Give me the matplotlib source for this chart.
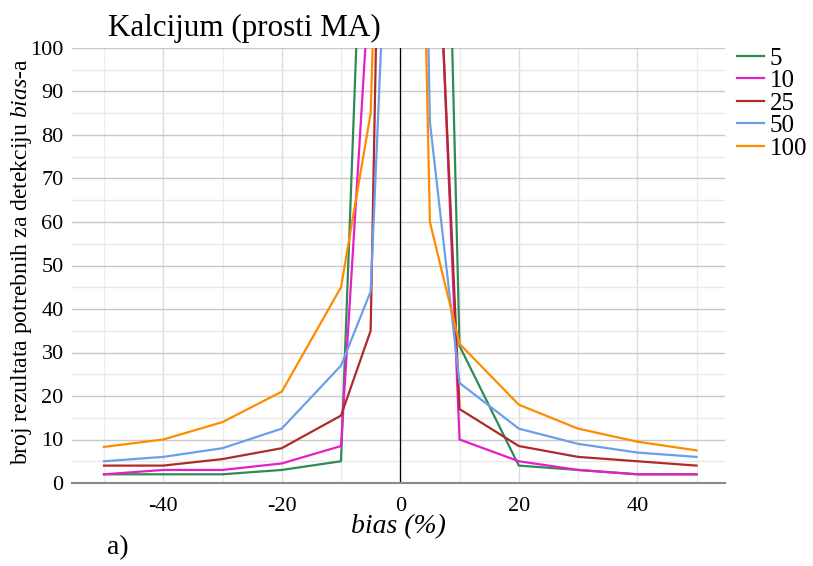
import matplotlib
matplotlib.use("Agg")
import matplotlib.pyplot as plt
from matplotlib.ticker import MultipleLocator

plt.rcParams["font.family"] = ["Liberation Serif", "DejaVu Serif"]
plt.rcParams["mathtext.fontset"] = "custom"
plt.rcParams["mathtext.rm"] = "Liberation Serif"
plt.rcParams["mathtext.it"] = "Liberation Serif:italic"
plt.rcParams["axes.unicode_minus"] = False

# bias (%) and number of results needed, per moving-average size
bias = [-50, -40, -30, -20, -10, -5, -2, 2, 5, 10, 20, 30, 40, 50]
n5 = [2, 2, 2, 3, 5, 190, 500, 500, 310, 31.5, 4, 3, 2, 2]
n10 = [2, 3, 3, 4.5, 8.5, 120, 400, 400, 175, 10, 5, 3, 2, 2]
n25 = [4, 4, 5.5, 8, 15.5, 35, 255, 400, 170, 17, 8.5, 6, 5, 4]
n50 = [5, 6, 8, 12.5, 27, 44, 140, 300, 83, 23, 12.5, 9, 7, 6]
n100 = [8.3, 10, 14, 21, 45, 85, 220, 250, 60, 32, 18, 12.5, 9.5, 7.5]

series = [("5", n5, "#2e8b57"),
          ("10", n10, "#e61ec8"),
          ("25", n25, "#b02a2a"),
          ("50", n50, "#6d9eeb"),
          ("100", n100, "#ff8c00")]

W, H = 813, 566
fig = plt.figure(figsize=(W / 100, H / 100), dpi=100)
ax = fig.add_axes([72 / W, 1 - 483 / H, (725 - 72) / W, (483 - 48) / H])

for label, vals, color in series:
    ax.plot(bias, vals, color=color, linewidth=1.6, label=label, zorder=3)

ax.set_xlim(-55.4, 54.8)
ax.set_ylim(0, 100)

ax.xaxis.set_major_locator(MultipleLocator(20))
ax.xaxis.set_minor_locator(MultipleLocator(10))
ax.yaxis.set_major_locator(MultipleLocator(10))
ax.yaxis.set_minor_locator(MultipleLocator(5))
ax.grid(which="major", axis="y", color="#c8c8c8", linewidth=1.0, zorder=0)
ax.grid(which="minor", axis="y", color="#e8e8e8", linewidth=1.0, zorder=0)
ax.grid(which="major", axis="x", color="#dcdcdc", linewidth=1.0, zorder=0)
ax.grid(which="minor", axis="x", color="#ececec", linewidth=1.0, zorder=0)
ax.set_axisbelow(True)

ax.axvline(0, color="black", linewidth=0.9, zorder=2)

for s in ["top", "right", "left"]:
    ax.spines[s].set_visible(False)
ax.spines["bottom"].set_color("#8a8a8a")
ax.spines["bottom"].set_linewidth(1.5)

ax.tick_params(which="both", length=0, labelsize=16)
ax.tick_params(axis="y", pad=6)
ax.tick_params(axis="x", pad=10)

ax.set_xlabel("bias (%)", fontsize=20, style="italic", labelpad=-1)
ax.set_ylabel("broj rezultata potrebnih za detekciju $\\mathit{bias}$-a",
              fontsize=17, va="center")
ax.yaxis.set_label_coords(-0.077, 0.508)

fig.text(108 / W, 1 - 28 / H, "Kalcijum (prosti MA)", fontsize=22.4,
         ha="left", va="center")
fig.text(107 / W, 1 - 548 / H, "a)", fontsize=20, ha="left", va="center")

leg = ax.legend(loc="upper left", bbox_to_anchor=(1.003, 1.025), frameon=False,
                fontsize=18, handlelength=1.1, handletextpad=0.2,
                labelspacing=0.0, borderaxespad=0)

fig.savefig("out.png", dpi=100)
